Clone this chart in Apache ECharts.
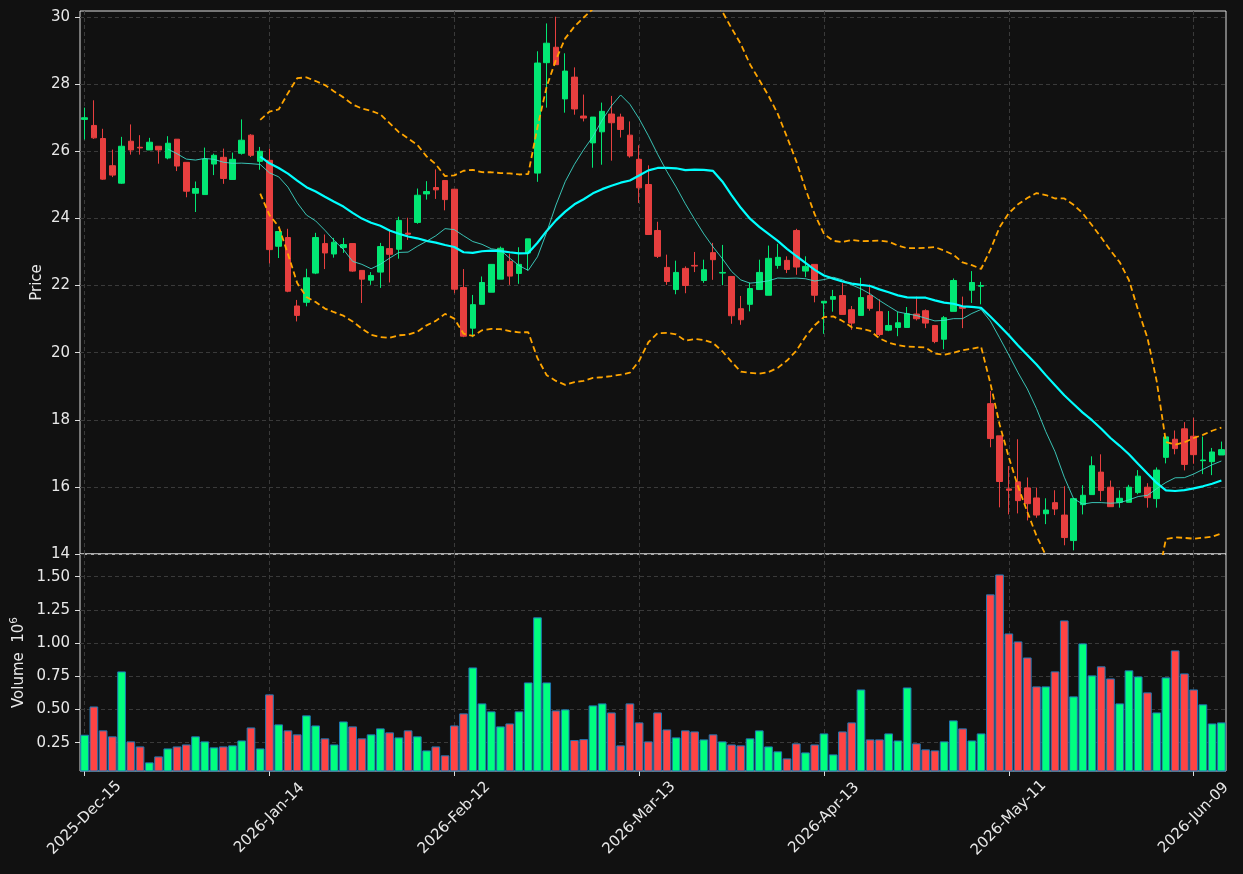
<!DOCTYPE html>
<html><head><meta charset="utf-8">
<script src="https://cdn.jsdelivr.net/npm/echarts@6/dist/echarts.min.js"></script>
<style>html,body{margin:0;padding:0;background:#111111;}#chart{width:1243px;height:874px;}</style>
</head><body><div id="chart"></div>
<script>
// ---- data ----
const dates = [
'2025-Dec-15','2025-Dec-16','2025-Dec-17','2025-Dec-18','2025-Dec-19','2025-Dec-22','2025-Dec-23','2025-Dec-24','2025-Dec-26','2025-Dec-29','2025-Dec-30','2025-Dec-31',
'2026-Jan-02','2026-Jan-05','2026-Jan-06','2026-Jan-07','2026-Jan-08','2026-Jan-09','2026-Jan-12','2026-Jan-13','2026-Jan-14','2026-Jan-15','2026-Jan-16','2026-Jan-20','2026-Jan-21','2026-Jan-22','2026-Jan-23','2026-Jan-26','2026-Jan-27','2026-Jan-28','2026-Jan-29','2026-Jan-30',
'2026-Feb-02','2026-Feb-03','2026-Feb-04','2026-Feb-05','2026-Feb-06','2026-Feb-09','2026-Feb-10','2026-Feb-11','2026-Feb-12','2026-Feb-13','2026-Feb-17','2026-Feb-18','2026-Feb-19','2026-Feb-20','2026-Feb-23','2026-Feb-24','2026-Feb-25','2026-Feb-26','2026-Feb-27',
'2026-Mar-02','2026-Mar-03','2026-Mar-04','2026-Mar-05','2026-Mar-06','2026-Mar-09','2026-Mar-10','2026-Mar-11','2026-Mar-12','2026-Mar-13','2026-Mar-16','2026-Mar-17','2026-Mar-18','2026-Mar-19','2026-Mar-20','2026-Mar-23','2026-Mar-24','2026-Mar-25','2026-Mar-26','2026-Mar-27','2026-Mar-30','2026-Mar-31',
'2026-Apr-01','2026-Apr-02','2026-Apr-06','2026-Apr-07','2026-Apr-08','2026-Apr-09','2026-Apr-10','2026-Apr-13','2026-Apr-14','2026-Apr-15','2026-Apr-16','2026-Apr-17','2026-Apr-20','2026-Apr-21','2026-Apr-22','2026-Apr-23','2026-Apr-24','2026-Apr-27','2026-Apr-28','2026-Apr-29','2026-Apr-30',
'2026-May-01','2026-May-04','2026-May-05','2026-May-06','2026-May-07','2026-May-08','2026-May-11','2026-May-12','2026-May-13','2026-May-14','2026-May-15','2026-May-18','2026-May-19','2026-May-20','2026-May-21','2026-May-22','2026-May-26','2026-May-27','2026-May-28','2026-May-29',
'2026-Jun-01','2026-Jun-02','2026-Jun-03','2026-Jun-04','2026-Jun-05','2026-Jun-08','2026-Jun-09','2026-Jun-10','2026-Jun-11','2026-Jun-12'
];
// [open, close, low, high]
const ohlc = [
[26.95,27.00,26.35,27.30],[26.77,26.40,26.37,27.52],[26.38,25.17,25.15,26.67],[25.57,25.29,25.23,26.05],[25.05,26.15,25.03,26.43],
[26.30,26.04,25.90,26.80],[26.12,26.10,25.90,26.48],[26.04,26.27,26.04,26.40],[26.15,26.04,25.63,26.15],[25.80,26.24,25.76,26.45],
[26.36,25.56,25.41,26.36],[25.67,24.81,24.63,25.67],[24.75,24.89,24.19,25.10],[24.71,25.77,24.71,26.11],[25.62,25.88,25.29,25.93],
[25.82,25.19,25.03,26.08],[25.16,25.76,25.16,25.96],[25.94,26.33,25.90,26.95],[26.48,25.88,25.83,26.51],[25.70,26.00,25.45,26.13],
[25.73,23.07,22.66,26.08],[23.17,23.61,22.82,23.62],[23.43,21.83,21.80,23.69],[21.39,21.11,20.93,21.57],[21.50,22.23,21.38,22.50],
[22.37,23.43,22.34,23.57],[23.25,22.97,22.49,23.52],[22.94,23.29,22.83,23.42],[23.13,23.22,22.97,23.42],[23.25,22.43,22.41,23.25],
[22.45,22.19,21.48,22.45],[22.16,22.30,22.02,22.40],[22.40,23.16,21.93,23.27],[23.10,22.93,22.09,23.66],[23.08,23.94,22.80,24.05],
[23.56,23.53,23.36,24.02],[23.88,24.69,23.84,24.89],[24.73,24.80,24.56,25.11],[24.92,24.85,24.58,25.46],[25.13,24.56,24.24,25.13],
[24.87,21.89,21.77,24.87],[21.94,20.49,20.46,22.49],[20.73,21.43,20.46,21.72],[21.44,22.09,21.44,22.27],[21.80,22.63,21.80,22.63],
[22.19,23.11,22.19,23.16],[22.72,22.28,22.02,22.95],[22.36,22.63,22.05,23.14],[22.97,23.39,22.45,23.39],[25.35,28.63,25.09,28.98],
[28.64,29.22,27.30,29.81],[29.10,28.58,28.57,30.01],[27.56,28.39,27.15,28.92],[28.21,27.26,27.09,28.50],[27.05,26.99,26.89,27.69],
[26.25,27.02,25.51,27.02],[26.58,27.19,25.60,27.45],[27.11,26.85,25.72,27.65],[27.02,26.65,26.41,27.12],[26.48,25.86,25.81,26.89],
[25.76,24.91,24.46,26.18],[25.01,23.52,23.52,25.58],[23.64,22.87,22.82,23.90],[22.54,22.12,22.02,22.92],[21.88,22.39,21.74,22.74],
[22.51,22.00,21.77,22.57],[22.60,22.58,22.40,23.00],[22.15,22.47,22.08,22.77],[22.98,22.77,22.17,23.27],[22.37,22.39,22.01,23.21],
[22.27,21.10,20.86,22.27],[21.31,20.98,20.83,21.69],[21.44,21.91,21.23,22.08],[21.88,22.39,21.88,22.77],[21.71,22.81,21.71,23.19],
[22.60,22.84,22.50,23.24],[22.75,22.48,22.37,22.87],[23.64,22.55,22.32,23.69],[22.43,22.57,22.25,22.87],[22.63,21.71,21.50,22.63],
[21.48,21.53,20.56,21.53],[21.59,21.67,21.22,21.87],[21.70,21.14,21.14,22.07],[21.28,20.88,20.68,21.39],[21.11,21.64,21.11,22.23],
[21.70,21.32,21.25,22.03],[21.22,20.54,20.49,21.59],[20.67,20.81,20.64,21.24],[20.75,20.89,20.49,21.21],[20.75,21.16,20.75,21.36],
[21.15,21.01,20.96,21.67],[21.25,20.88,20.73,21.29],[20.81,20.33,20.28,20.81],[20.40,21.04,20.10,21.09],[21.23,22.15,21.23,22.21],
[21.37,21.32,20.73,21.67],[21.86,22.09,21.48,22.43],[21.98,22.00,21.44,22.11],[18.48,17.44,17.18,18.86],[17.52,16.16,15.39,17.52],
[15.94,15.90,15.18,16.62],[16.15,15.59,15.21,17.42],[15.97,15.50,15.00,16.28],[15.67,15.16,15.08,15.98],[15.20,15.31,14.89,15.66],
[15.53,15.34,15.16,15.90],[15.16,14.49,14.26,16.02],[14.40,15.65,14.11,15.65],[15.47,15.75,15.18,16.05],[15.77,16.63,15.77,16.91],
[16.44,15.89,15.58,16.97],[15.99,15.41,15.41,16.19],[15.54,15.66,15.38,15.90],[15.54,15.99,15.54,16.06],[15.83,16.32,15.78,16.50],
[15.99,15.68,15.38,16.11],[15.65,16.50,15.38,16.58],[16.88,17.49,16.70,17.49],[17.42,17.14,16.97,17.68],[17.73,16.67,16.49,17.93],
[17.51,16.96,16.69,18.06],[16.78,16.80,16.38,17.50],[16.75,17.04,16.35,17.16],[16.95,17.11,16.95,17.35]
];
// volume in millions
const volumes = [
0.310,0.523,0.343,0.298,0.787,0.260,0.222,0.102,0.147,0.207,
0.222,0.237,0.298,0.260,0.215,0.222,0.230,0.267,0.365,0.207,
0.614,0.388,0.343,0.313,0.456,0.380,0.283,0.237,0.410,0.373,
0.283,0.313,0.358,0.328,0.290,0.343,0.298,0.192,0.222,0.155,
0.380,0.471,0.817,0.546,0.486,0.373,0.395,0.486,0.704,1.194,
0.704,0.493,0.501,0.270,0.277,0.531,0.546,0.478,0.230,0.546,
0.403,0.260,0.478,0.350,0.290,0.343,0.335,0.275,0.313,0.260,
0.237,0.230,0.283,0.343,0.222,0.185,0.132,0.245,0.177,0.237,
0.320,0.162,0.335,0.403,0.651,0.275,0.275,0.320,0.267,0.666,
0.245,0.200,0.192,0.260,0.418,0.358,0.267,0.320,1.367,1.517,
1.073,1.013,0.892,0.674,0.674,0.787,1.171,0.599,0.998,0.757,
0.825,0.734,0.546,0.795,0.749,0.629,0.478,0.742,0.945,0.772,
0.651,0.539,0.395,0.403
];
const priceTicks = [14,16,18,20,22,24,26,28,30];
const volumeTicks = [0.25,0.50,0.75,1.00,1.25,1.50];
const labelStep = 20;

// ---- indicators derived from closes ----
const closes = ohlc.map(d => d[1]);
function sma(n) {
  return closes.map((_, i) => {
    if (i < n - 1) return '-';
    let s = 0; for (let j = i - n + 1; j <= i; j++) s += closes[j];
    return +(s / n).toFixed(4);
  });
}
function band(n, k, sign) {
  return closes.map((_, i) => {
    if (i < n - 1) return '-';
    let s = 0; for (let j = i - n + 1; j <= i; j++) s += closes[j];
    const m = s / n;
    let v = 0; for (let j = i - n + 1; j <= i; j++) v += (closes[j] - m) * (closes[j] - m);
    const sd = Math.sqrt(v / (n - 1));
    return +(m + sign * k * sd).toFixed(4);
  });
}

const UPV = '#00ff7f', DNV = '#ff4444';
const UPC = '#02e774', DNC = '#e73f3f';
const TXT = '#e8e8e8', FRAME = '#dddddd';
const FS = 15;
const gridLine = {show: true, lineStyle: {color: '#3a3a3a', type: [4, 3], width: 1}};
const every = (i) => i % labelStep === 0;

const volData = volumes.map((v, i) => {
  const up = ohlc[i][1] >= ohlc[i][0];
  return {value: v, itemStyle: {color: up ? UPV : DNV}};
});

const chart = echarts.init(document.getElementById('chart'), null, {renderer: 'canvas'});
chart.setOption({
  backgroundColor: '#111111',
  animation: false,
  textStyle: {fontFamily: 'DejaVu Sans'},
  grid: [
    {left: 80, top: 11, width: 1146, height: 543, show: true, borderColor: FRAME, borderWidth: 1},
    {left: 80, top: 554, width: 1146, height: 217, show: true, borderColor: FRAME, borderWidth: 1}
  ],
  xAxis: [
    {type: 'category', gridIndex: 0, data: dates, boundaryGap: true,
     axisLine: {show: false}, axisTick: {show: false}, axisLabel: {show: false},
     splitLine: Object.assign({interval: every, alignWithLabel: true}, gridLine)},
    {type: 'category', gridIndex: 1, data: dates, boundaryGap: true,
     axisLine: {show: false},
     axisTick: {show: true, alignWithLabel: true, interval: every, length: 5, lineStyle: {color: FRAME}},
     axisLabel: {interval: every, rotate: 45, align: 'center', verticalAlign: 'middle', margin: 47,
                 color: TXT, fontSize: FS, fontFamily: 'DejaVu Sans'},
     splitLine: Object.assign({interval: every, alignWithLabel: true}, gridLine)}
  ],
  yAxis: [
    {type: 'value', gridIndex: 0, min: 14, max: 30.18,
     axisLine: {show: false},
     axisTick: {show: true, customValues: priceTicks, length: 5, lineStyle: {color: FRAME}},
     axisLabel: {customValues: priceTicks, color: TXT, fontSize: FS, margin: 10, fontFamily: 'DejaVu Sans'},
     splitLine: gridLine,
     name: 'Price', nameLocation: 'middle', nameGap: 35, nameMoveOverlap: false,
     nameTextStyle: {color: TXT, fontSize: FS, fontFamily: 'DejaVu Sans'}},
    {type: 'value', gridIndex: 1, min: 0.037, max: 1.671,
     axisLine: {show: false},
     axisTick: {show: true, customValues: volumeTicks, length: 5, lineStyle: {color: FRAME}},
     axisLabel: {customValues: volumeTicks, color: TXT, fontSize: FS, margin: 10, fontFamily: 'DejaVu Sans',
                 formatter: v => v.toFixed(2)},
     splitLine: gridLine,
     name: 'Volume  10{sup|6}', nameLocation: 'middle', nameGap: 50, nameMoveOverlap: false,
     nameTextStyle: {color: TXT, fontSize: FS, fontFamily: 'DejaVu Sans',
       rich: {sup: {fontSize: 10.5, color: TXT, fontFamily: 'DejaVu Sans', verticalAlign: 'top', padding: [0, 0, 10, 0]}}}}
  ],
  series: [
    {type: 'candlestick', xAxisIndex: 0, yAxisIndex: 0, data: ohlc, barWidth: 6,
     itemStyle: {color: UPC, color0: DNC, borderColor: UPC, borderColor0: DNC, borderWidth: 1}},
    {type: 'line', xAxisIndex: 0, yAxisIndex: 0, data: sma(20), symbol: 'none',
     lineStyle: {color: '#00ffff', width: 2.2}, z: 3},
    {type: 'line', xAxisIndex: 0, yAxisIndex: 0, data: sma(10), symbol: 'none',
     lineStyle: {color: '#40e0d0', width: 1, opacity: 0.85}, z: 3},
    {type: 'line', xAxisIndex: 0, yAxisIndex: 0, data: band(20, 2, 1), symbol: 'none',
     lineStyle: {color: '#ffa500', width: 1.8, type: [6, 3.5]}, z: 3},
    {type: 'line', xAxisIndex: 0, yAxisIndex: 0, data: band(20, 2, -1), symbol: 'none',
     lineStyle: {color: '#ffa500', width: 1.8, type: [6, 3.5]}, z: 3},
    {type: 'bar', xAxisIndex: 1, yAxisIndex: 1, data: volData, barCategoryGap: '6%',
     itemStyle: {borderColor: '#1f77b4', borderWidth: 1}}
  ]
});
</script>
</body></html>
